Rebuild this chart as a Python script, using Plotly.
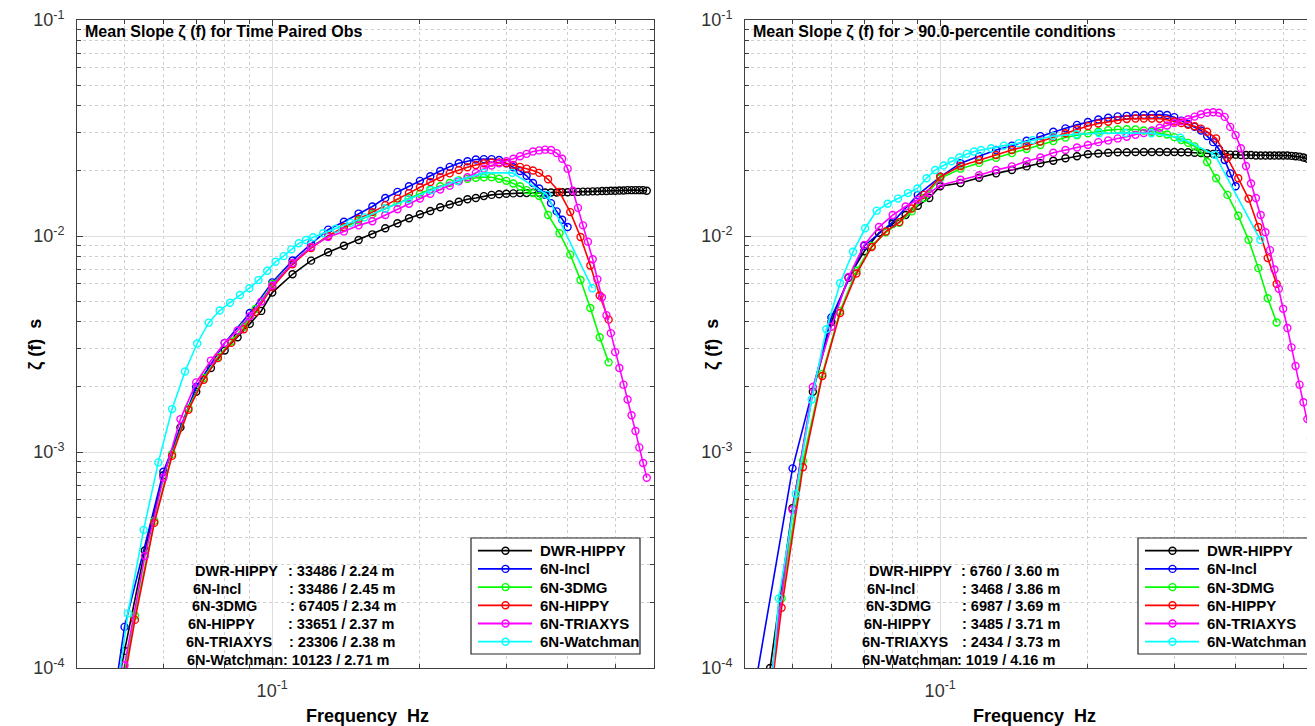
"""Mean slope spectra for buoy payload comparison, rebuilt with Plotly."""

import plotly.graph_objects as go

# ---------------------------------------------------------------- data
# frequency grids (Hz), one per spectral processing system
FREQ_DATAWELL = [
    0.040, 0.045, 0.050, 0.055, 0.060, 0.065, 0.070, 0.075, 0.080, 0.085,
    0.090, 0.095, 0.100, 0.11, 0.12, 0.13, 0.14, 0.15, 0.16, 0.17, 0.18,
    0.19, 0.20, 0.21, 0.22, 0.23, 0.24, 0.25, 0.26, 0.27, 0.28, 0.29, 0.30,
    0.31, 0.32, 0.33, 0.34, 0.35, 0.36, 0.37, 0.38, 0.39, 0.40, 0.41, 0.42,
    0.43, 0.44, 0.45, 0.46, 0.47, 0.48, 0.49, 0.50, 0.51, 0.52, 0.53, 0.54,
    0.55, 0.56, 0.57, 0.58,
]
FREQ_NDBC = [
    0.0375, 0.0425, 0.0475, 0.0525, 0.0575, 0.0625, 0.0675, 0.0725, 0.0775,
    0.0825, 0.0875, 0.0925, 0.100, 0.11, 0.12, 0.13, 0.14, 0.15, 0.16, 0.17,
    0.18, 0.19, 0.20, 0.21, 0.22, 0.23, 0.24, 0.25, 0.26, 0.27, 0.28, 0.29,
    0.30, 0.31, 0.32, 0.33, 0.34, 0.35, 0.365, 0.385, 0.405, 0.425, 0.445,
    0.465, 0.485,
]
FREQ_INCL = [
    0.04, 0.05, 0.06, 0.07, 0.08, 0.09, 0.10, 0.11, 0.12, 0.13, 0.14, 0.15,
    0.16, 0.17, 0.18, 0.19, 0.20, 0.21, 0.22, 0.23, 0.24, 0.25, 0.26, 0.27,
    0.28, 0.29, 0.30, 0.31, 0.32, 0.33, 0.34, 0.35, 0.36, 0.37, 0.38, 0.39,
    0.40,
]
FREQ_WATCHMAN = [
    0.04297, 0.04688, 0.05078, 0.05469, 0.05859, 0.06250, 0.06641, 0.07031,
    0.07422, 0.07813, 0.08203, 0.08594, 0.08984, 0.09375, 0.09766, 0.10156,
    0.10547, 0.10938, 0.11328, 0.11719, 0.12109, 0.1270, 0.1348, 0.1445,
    0.1543, 0.1699, 0.1895, 0.2109, 0.2383, 0.2695, 0.3086, 0.3633, 0.4492,
]

# left panel: time paired observations
PAIRED_DWR_HIPPY = [
    8e-6, 3.5e-5, 1.2e-4, 3.5e-4, 7.8e-4, 1.3e-3, 1.9e-3, 2.45e-3, 2.95e-3,
    3.4e-3, 3.92e-3, 4.5e-3, 5.47e-3, 6.65e-3, 7.69e-3, 8.41e-3, 9.02e-3,
    9.58e-3, 1.018e-2, 1.086e-2, 1.145e-2, 1.208e-2, 1.26e-2, 1.305e-2,
    1.358e-2, 1.40e-2, 1.44e-2, 1.48e-2, 1.50e-2, 1.53e-2, 1.55e-2, 1.56e-2,
    1.57e-2, 1.575e-2, 1.58e-2, 1.58e-2, 1.585e-2, 1.585e-2, 1.59e-2,
    1.59e-2, 1.59e-2, 1.595e-2, 1.595e-2, 1.60e-2, 1.60e-2, 1.605e-2,
    1.605e-2, 1.61e-2, 1.61e-2, 1.615e-2, 1.615e-2, 1.62e-2, 1.62e-2,
    1.625e-2, 1.625e-2, 1.63e-2, 1.63e-2, 1.63e-2, 1.63e-2, 1.63e-2, 1.62e-2,
]
PAIRED_6N_INCL = [
    5e-6, 1.55e-4, 8.1e-4, 2.0e-3, 3.2e-3, 4.4e-3, 6.1e-3, 7.7e-3, 9.2e-3,
    1.07e-2, 1.164e-2, 1.27e-2, 1.37e-2, 1.50e-2, 1.60e-2, 1.70e-2, 1.80e-2,
    1.89e-2, 2.0e-2, 2.09e-2, 2.17e-2, 2.22e-2, 2.26e-2, 2.27e-2, 2.27e-2,
    2.25e-2, 2.17e-2, 2.08e-2, 2.0e-2, 1.9e-2, 1.76e-2, 1.66e-2, 1.55e-2,
    1.42e-2, 1.3e-2, 1.19e-2, 1.1e-2,
]
PAIRED_6N_3DMG = [
    2e-6, 1.1e-5, 5e-5, 1.75e-4, 4.8e-4, 9.8e-4, 1.6e-3, 2.2e-3, 2.75e-3,
    3.25e-3, 3.8e-3, 4.6e-3, 6.0e-3, 7.5e-3, 8.9e-3, 1.0e-2, 1.09e-2,
    1.18e-2, 1.26e-2, 1.34e-2, 1.42e-2, 1.5e-2, 1.57e-2, 1.64e-2, 1.7e-2,
    1.76e-2, 1.81e-2, 1.84e-2, 1.86e-2, 1.87e-2, 1.87e-2, 1.84e-2, 1.8e-2,
    1.75e-2, 1.7e-2, 1.63e-2, 1.58e-2, 1.53e-2, 1.25e-2, 1.03e-2, 8.2e-3,
    6.26e-3, 4.64e-3, 3.4e-3, 2.6e-3,
]
PAIRED_6N_HIPPY = [
    2e-6, 1e-5, 4.6e-5, 1.67e-4, 4.7e-4, 9.6e-4, 1.57e-3, 2.16e-3, 2.72e-3,
    3.2e-3, 3.7e-3, 4.45e-3, 5.8e-3, 7.4e-3, 8.8e-3, 1.0e-2, 1.1e-2, 1.2e-2,
    1.29e-2, 1.39e-2, 1.49e-2, 1.58e-2, 1.68e-2, 1.78e-2, 1.87e-2, 1.95e-2,
    2.02e-2, 2.08e-2, 2.13e-2, 2.17e-2, 2.19e-2, 2.19e-2, 2.17e-2, 2.13e-2,
    2.09e-2, 2.05e-2, 2.01e-2, 1.96e-2, 1.83e-2, 1.6e-2, 1.29e-2, 9.9e-3,
    7.3e-3, 5.3e-3, 4.1e-3,
]
PAIRED_6N_TRIAXYS = [
    1e-5, 2e-5, 1.03e-4, 3.3e-4, 7.6e-4, 1.42e-3, 2.1e-3, 2.65e-3, 3.2e-3,
    3.65e-3, 4.25e-3, 4.97e-3, 5.9e-3, 7.5e-3, 8.9e-3, 9.9e-3, 1.05e-2,
    1.12e-2, 1.17e-2, 1.25e-2, 1.33e-2, 1.41e-2, 1.49e-2, 1.57e-2, 1.64e-2,
    1.71e-2, 1.79e-2, 1.87e-2, 1.96e-2, 2.05e-2, 2.12e-2, 2.17e-2, 2.22e-2,
    2.28e-2, 2.34e-2, 2.40e-2, 2.46e-2, 2.49e-2, 2.51e-2, 2.50e-2, 2.42e-2,
    2.28e-2, 2.05e-2, 1.62e-2, 1.35e-2, 1.12e-2, 9.4e-3, 7.8e-3, 6.3e-3,
    5.2e-3, 4.3e-3, 3.55e-3, 2.9e-3, 2.45e-3, 2.05e-3, 1.75e-3, 1.48e-3,
    1.25e-3, 1.05e-3, 8.9e-4, 7.6e-4,
]
PAIRED_6N_WATCHMAN = [
    1e-5, 4.8e-5, 1.79e-4, 4.36e-4, 8.95e-4, 1.58e-3, 2.36e-3, 3.18e-3,
    3.97e-3, 4.52e-3, 4.91e-3, 5.33e-3, 5.73e-3, 6.25e-3, 6.9e-3, 7.6e-3,
    8.07e-3, 8.67e-3, 9.25e-3, 9.58e-3, 9.86e-3, 1.03e-2, 1.08e-2, 1.15e-2,
    1.22e-2, 1.34e-2, 1.48e-2, 1.63e-2, 1.8e-2, 1.96e-2, 1.96e-2, 1.55e-2,
    5.73e-3,
]

# right panel: > 90.0-percentile conditions
HIGH_DWR_HIPPY = [
    1e-5, 1.0e-4, 5.5e-4, 1.9e-3, 4.0e-3, 6.4e-3, 8.5e-3, 1.035e-2, 1.14e-2,
    1.25e-2, 1.38e-2, 1.5e-2, 1.7e-2, 1.76e-2, 1.86e-2, 1.95e-2, 2.02e-2,
    2.1e-2, 2.17e-2, 2.23e-2, 2.29e-2, 2.34e-2, 2.39e-2, 2.41e-2, 2.43e-2,
    2.44e-2, 2.44e-2, 2.45e-2, 2.45e-2, 2.45e-2, 2.45e-2, 2.45e-2, 2.45e-2,
    2.44e-2, 2.44e-2, 2.43e-2, 2.42e-2, 2.41e-2, 2.4e-2, 2.4e-2, 2.39e-2,
    2.38e-2, 2.38e-2, 2.37e-2, 2.37e-2, 2.37e-2, 2.36e-2, 2.36e-2, 2.36e-2,
    2.36e-2, 2.36e-2, 2.36e-2, 2.36e-2, 2.36e-2, 2.35e-2, 2.34e-2, 2.33e-2,
    2.31e-2, 2.28e-2, 2.23e-2, 2.15e-2,
]
HIGH_6N_INCL = [
    4.4e-5, 8.4e-4, 4.2e-3, 9.0e-3, 1.16e-2, 1.55e-2, 1.88e-2, 2.17e-2,
    2.34e-2, 2.5e-2, 2.62e-2, 2.76e-2, 2.9e-2, 3.04e-2, 3.15e-2, 3.27e-2,
    3.37e-2, 3.46e-2, 3.53e-2, 3.58e-2, 3.6e-2, 3.62e-2, 3.63e-2, 3.64e-2,
    3.65e-2, 3.63e-2, 3.55e-2, 3.42e-2, 3.3e-2, 3.2e-2, 3.08e-2, 2.9e-2,
    2.72e-2, 2.52e-2, 2.25e-2, 1.95e-2, 1.7e-2,
]
HIGH_6N_3DMG = [
    3e-6, 2.8e-5, 2.1e-4, 9.1e-4, 2.3e-3, 4.5e-3, 6.9e-3, 9.0e-3, 1.04e-2,
    1.15e-2, 1.3e-2, 1.5e-2, 1.85e-2, 2.05e-2, 2.18e-2, 2.3e-2, 2.42e-2,
    2.53e-2, 2.64e-2, 2.75e-2, 2.86e-2, 2.93e-2, 2.99e-2, 3.04e-2, 3.09e-2,
    3.11e-2, 3.12e-2, 3.11e-2, 3.08e-2, 3.04e-2, 3.0e-2, 2.95e-2, 2.87e-2,
    2.78e-2, 2.7e-2, 2.6e-2, 2.45e-2, 2.2e-2, 1.85e-2, 1.55e-2, 1.24e-2,
    9.6e-3, 7.1e-3, 5.15e-3, 3.98e-3,
]
HIGH_6N_HIPPY = [
    3e-6, 2.5e-5, 1.9e-4, 8.5e-4, 2.25e-3, 4.4e-3, 6.7e-3, 8.9e-3, 1.05e-2,
    1.16e-2, 1.34e-2, 1.55e-2, 1.88e-2, 2.11e-2, 2.25e-2, 2.37e-2, 2.5e-2,
    2.61e-2, 2.74e-2, 2.88e-2, 2.99e-2, 3.12e-2, 3.23e-2, 3.32e-2, 3.38e-2,
    3.44e-2, 3.48e-2, 3.5e-2, 3.5e-2, 3.5e-2, 3.49e-2, 3.45e-2, 3.39e-2,
    3.33e-2, 3.27e-2, 3.22e-2, 3.14e-2, 3.04e-2, 2.83e-2, 2.3e-2, 1.85e-2,
    1.49e-2, 1.1e-2, 7.9e-3, 6.0e-3,
]
HIGH_6N_TRIAXYS = [
    1e-5, 8e-5, 5.4e-4, 2.0e-3, 3.8e-3, 6.46e-3, 9.1e-3, 1.1e-2, 1.25e-2,
    1.37e-2, 1.47e-2, 1.58e-2, 1.72e-2, 1.82e-2, 1.91e-2, 2.02e-2, 2.1e-2,
    2.22e-2, 2.31e-2, 2.43e-2, 2.5e-2, 2.57e-2, 2.64e-2, 2.72e-2, 2.77e-2,
    2.83e-2, 2.88e-2, 2.94e-2, 3.0e-2, 3.08e-2, 3.17e-2, 3.25e-2, 3.33e-2,
    3.4e-2, 3.47e-2, 3.57e-2, 3.66e-2, 3.72e-2, 3.74e-2, 3.72e-2, 3.56e-2,
    3.2e-2, 2.93e-2, 2.55e-2, 2.11e-2, 1.75e-2, 1.5e-2, 1.25e-2, 1.04e-2,
    8.6e-3, 7.0e-3, 5.7e-3, 4.6e-3, 3.75e-3, 3.05e-3, 2.5e-3, 2.05e-3,
    1.7e-3, 1.42e-3, 1.15e-3, 9.5e-4,
]
HIGH_6N_WATCHMAN = [
    2e-5, 2.1e-4, 6.4e-4, 1.75e-3, 3.7e-3, 6.04e-3, 8.45e-3, 1.086e-2,
    1.31e-2, 1.41e-2, 1.49e-2, 1.58e-2, 1.66e-2, 1.85e-2, 2.02e-2, 2.12e-2,
    2.22e-2, 2.31e-2, 2.4e-2, 2.46e-2, 2.5e-2, 2.55e-2, 2.62e-2, 2.69e-2,
    2.78e-2, 2.9e-2, 2.96e-2, 2.99e-2, 3.0e-2, 2.99e-2, 2.85e-2, 2.37e-2,
    9.6e-3,
]

SYSTEM_NAMES = ["DWR-HIPPY", "6N-Incl", "6N-3DMG", "6N-HIPPY", "6N-TRIAXYS", "6N-Watchman"]
SYSTEM_COLORS = ["#000000", "#0000ff", "#00ff00", "#ff0000", "#ff00ff", "#00ffff"]
SYSTEM_FREQS = [FREQ_DATAWELL, FREQ_INCL, FREQ_NDBC, FREQ_NDBC, FREQ_DATAWELL, FREQ_WATCHMAN]

PAIRED_VALUES = [PAIRED_DWR_HIPPY, PAIRED_6N_INCL, PAIRED_6N_3DMG,
                 PAIRED_6N_HIPPY, PAIRED_6N_TRIAXYS, PAIRED_6N_WATCHMAN]
HIGH_VALUES = [HIGH_DWR_HIPPY, HIGH_6N_INCL, HIGH_6N_3DMG,
               HIGH_6N_HIPPY, HIGH_6N_TRIAXYS, HIGH_6N_WATCHMAN]

PAIRED_COUNTS = [33486, 33486, 67405, 33651, 23306, 10123]
PAIRED_HS = [2.24, 2.45, 2.34, 2.37, 2.38, 2.71]
HIGH_COUNTS = [6760, 3468, 6987, 3485, 2434, 1019]
HIGH_HS = [3.60, 3.86, 3.69, 3.71, 3.73, 4.16]

PANEL_TITLES = [
    "Mean Slope \u03b6 (f) for Time Paired Obs",
    "Mean Slope \u03b6 (f) for > 90.0-percentile conditions",
]

# ---------------------------------------------------------------- layout
# positions below are screen pixels; the page body adds an 8 px margin
BODY_MARGIN = 8
SCREEN_W, SCREEN_H = 1315, 726
WIDTH, HEIGHT = SCREEN_W - BODY_MARGIN, SCREEN_H - BODY_MARGIN
LEFT, RIGHT, TOP, BOTTOM = 77, 1315, 20, 668
PANEL_W = 577
RIGHT_PANEL_X0 = 745
FONT = "Liberation Sans, Arial, Helvetica, sans-serif"
LOG_F0, LOG_F1 = -1.39794, -0.22185  # 0.04 .. 0.6 Hz
AXIS_GREY = "#404040"


def paper_x(px):
    return (px - LEFT) / (RIGHT - LEFT)


def paper_y(py):
    return (BOTTOM - py) / (BOTTOM - TOP)


def axis_style(**extra):
    style = dict(
        type="log",
        showline=True,
        linecolor=AXIS_GREY,
        linewidth=1,
        ticks="inside",
        ticklen=6,
        tickcolor=AXIS_GREY,
        showgrid=True,
        gridcolor="#dedede",
        gridwidth=1,
        zeroline=False,
        ticklabeloverflow="allow",
        tickfont=dict(family=FONT, size=18, color="#333333"),
    )
    style.update(extra)
    return style


def minor_style(vals):
    return dict(
        tickmode="array",
        tickvals=vals,
        ticks="inside",
        ticklen=4,
        tickcolor=AXIS_GREY,
        showgrid=True,
        gridcolor="#cfcfcf",
        griddash="dot",
    )


def x_axis(domain, rng, mirror):
    return axis_style(
        domain=domain,
        range=rng,
        mirror=mirror,
        tickmode="array",
        tickvals=[0.1],
        ticktext=["10<sup>-1</sup>"],
        ticklabelstandoff=6,
        minor=minor_style([0.04, 0.05, 0.06, 0.07, 0.08, 0.09, 0.2, 0.3, 0.4, 0.5, 0.6]),
    )


def y_axis(anchor, mirror):
    minor_vals = [k * 10.0 ** e for e in (-4, -3, -2) for k in range(2, 10)]
    return axis_style(
        anchor=anchor,
        domain=[0, 1],
        range=[-4, -1],
        mirror=mirror,
        tickmode="array",
        tickvals=[1e-4, 1e-3, 1e-2, 1e-1],
        ticktext=["10<sup>-4</sup>", "10<sup>-3</sup>", "10<sup>-2</sup>", "10<sup>-1</sup>"],
        ticklabelstandoff=8,
        minor=minor_style(minor_vals),
    )


def add_panel(fig, values, xref, yref):
    for name, color, freq, vals in zip(SYSTEM_NAMES, SYSTEM_COLORS, SYSTEM_FREQS, values):
        fig.add_trace(
            go.Scatter(
                x=freq,
                y=vals,
                mode="lines+markers",
                name=name,
                line=dict(color=color, width=1.6),
                marker=dict(symbol="circle-open", size=7, color=color, line=dict(width=1.4)),
                xaxis=xref,
                yaxis=yref,
                showlegend=False,
            )
        )


def text(x, y, s, size, **extra):
    ann = dict(
        x=paper_x(x), y=paper_y(y), xref="paper", yref="paper",
        text=s, showarrow=False, xanchor="left", yanchor="middle",
        font=dict(family=FONT, size=size, color="#000000", weight="bold"),
    )
    ann.update(extra)
    return ann


def legend_items(x0, y0, box_right):
    shapes = [dict(
        type="rect", xref="paper", yref="paper",
        x0=paper_x(x0), x1=paper_x(box_right), y0=paper_y(y0 + 116), y1=paper_y(y0),
        line=dict(color="#262626", width=1.2), fillcolor="#ffffff", layer="above",
    )]
    annotations = []
    for i, (name, color) in enumerate(zip(SYSTEM_NAMES, SYSTEM_COLORS)):
        yc = y0 + 12.7 + 18.2 * i
        shapes.append(dict(
            type="line", xref="paper", yref="paper", layer="above",
            x0=paper_x(x0 + 7), x1=paper_x(x0 + 61), y0=paper_y(yc), y1=paper_y(yc),
            line=dict(color=color, width=1.8),
        ))
        shapes.append(dict(
            type="circle", xref="paper", yref="paper", layer="above",
            x0=paper_x(x0 + 31), x1=paper_x(x0 + 38), y0=paper_y(yc + 3.5), y1=paper_y(yc - 3.5),
            line=dict(color=color, width=1.4),
        ))
        annotations.append(text(x0 + 67, yc, name, 15))
    return shapes, annotations


def stats_block(name_xs, colon_xs, counts, hs):
    annotations = []
    for i, (name, count, h) in enumerate(zip(SYSTEM_NAMES, counts, hs)):
        yc = 570.7 + 17.86 * i
        annotations.append(text(name_xs[i], yc, name, 14.5))
        annotations.append(text(colon_xs[i], yc, f": {count} / {h:.2f} m", 14.5))
    return annotations


fig = go.Figure()
add_panel(fig, PAIRED_VALUES, "x", "y")
add_panel(fig, HIGH_VALUES, "x2", "y2")

right_end = LOG_F0 + (RIGHT - RIGHT_PANEL_X0) / PANEL_W * (LOG_F1 - LOG_F0)

shapes_l, ann_l = legend_items(471, 538, 640)
shapes_r, ann_r = legend_items(1138, 538, 1322)

annotations = []
annotations.append(text(83, 32, PANEL_TITLES[0], 16))
annotations.append(text(751, 32, PANEL_TITLES[1], 16))
annotations.append(text(367, 716, "Frequency  Hz", 18, xanchor="center"))
annotations.append(text(1034, 716, "Frequency  Hz", 18, xanchor="center"))
annotations.append(text(35, 345, "\u03b6 (f)  s", 18, xanchor="center", textangle=-90))
annotations.append(text(712, 345, "\u03b6 (f)  s", 18, xanchor="center", textangle=-90))
annotations += stats_block([192.5, 191, 189.5, 186, 184, 185],
                           [285.5, 287, 288, 285.5, 287, 280.5],
                           PAIRED_COUNTS, PAIRED_HS)
annotations += stats_block([867, 865, 864, 861.7, 860, 860],
                           [959, 960.4, 960.4, 960.4, 960.4, 955],
                           HIGH_COUNTS, HIGH_HS)
annotations += ann_l + ann_r

fig.update_layout(
    width=WIDTH,
    height=HEIGHT,
    margin=dict(
        l=LEFT - BODY_MARGIN,
        r=SCREEN_W - RIGHT,
        t=TOP - BODY_MARGIN,
        b=SCREEN_H - BOTTOM,
        autoexpand=False,
    ),
    paper_bgcolor="#ffffff",
    plot_bgcolor="#ffffff",
    showlegend=False,
    xaxis=x_axis([0, paper_x(LEFT + PANEL_W)], [LOG_F0, LOG_F1], "ticks"),
    yaxis=y_axis("x", "ticks"),
    xaxis2=x_axis([paper_x(RIGHT_PANEL_X0), 1], [LOG_F0, right_end], "ticks"),
    yaxis2=y_axis("x2", False),
    shapes=shapes_l + shapes_r,
    annotations=annotations,
    font=dict(family=FONT),
)
fig.update_layout(yaxis2=dict(anchor="x2"), xaxis2=dict(anchor="y2"))

fig.write_html("out.html")
